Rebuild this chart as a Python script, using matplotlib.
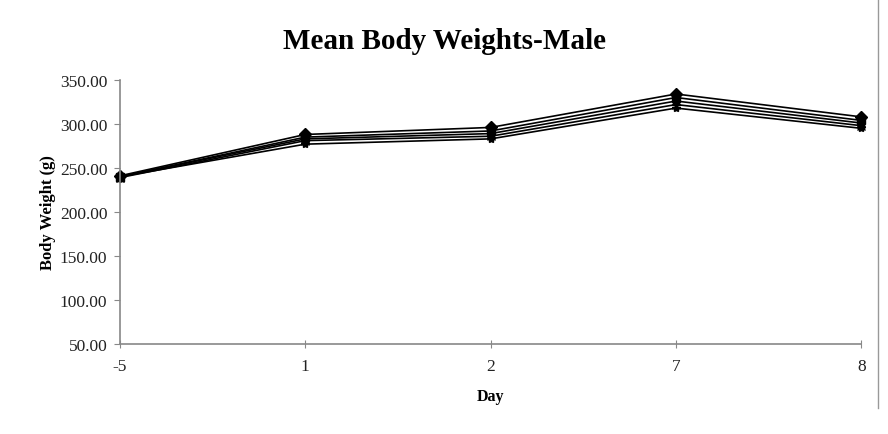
import matplotlib
matplotlib.use("Agg")
import matplotlib.pyplot as plt
from matplotlib.ticker import FormatStrFormatter
from matplotlib.lines import Line2D

days = ["-5", "1", "2", "7", "8"]
series_a = [241, 288, 296, 334, 308]
series_b = [240, 285, 292, 330, 304]
series_c = [240, 283, 289, 326, 301]
series_d = [239, 281, 286, 322, 298]
series_e = [240, 277, 283, 318, 295]
all_series = [series_a, series_b, series_c, series_d, series_e]
markers = ["D", "s", "^", "x", "*"]

plt.rcParams["font.family"] = ["Liberation Serif", "DejaVu Serif"]

fig = plt.figure(figsize=(8.88, 4.35), dpi=100)
ax = fig.add_axes([0.135, 0.207, 0.835, 0.607])

x = list(range(len(days)))
for vals, m in zip(all_series, markers):
    ax.plot(x, vals, color="black", lw=1.2, marker=m, markersize=6,
            markerfacecolor="black", markeredgecolor="black", clip_on=False)

ax.set_xlim(0, len(days) - 1)
ax.set_ylim(50, 350)
ax.set_yticks(range(50, 351, 50))
ax.yaxis.set_major_formatter(FormatStrFormatter("%.2f"))
ax.set_xticks(x)
ax.set_xticklabels(days)

for s in ["top", "right"]:
    ax.spines[s].set_visible(False)
for s in ["left", "bottom"]:
    ax.spines[s].set_color("#888888")
    ax.spines[s].set_linewidth(1.2)

ax.tick_params(axis="y", direction="out", length=4, color="#888888", labelsize=12.5,
               pad=5, labelcolor="#222222")
ax.tick_params(axis="x", direction="inout", length=6, color="#888888", labelsize=12.5,
               pad=7, labelcolor="#222222")

ax.set_xlabel("Day", fontsize=11.5, fontweight="bold", labelpad=10)
ax.set_ylabel("Body Weight (g)", fontsize=12, fontweight="bold", labelpad=3)
fig.suptitle("Mean Body Weights-Male", fontsize=21, fontweight="bold", y=0.935)

fig.add_artist(Line2D([878 / 888, 878 / 888], [0.06, 1.0], color="#999999", lw=1,
                      transform=fig.transFigure))

fig.savefig("out.png", dpi=100, facecolor="white")
